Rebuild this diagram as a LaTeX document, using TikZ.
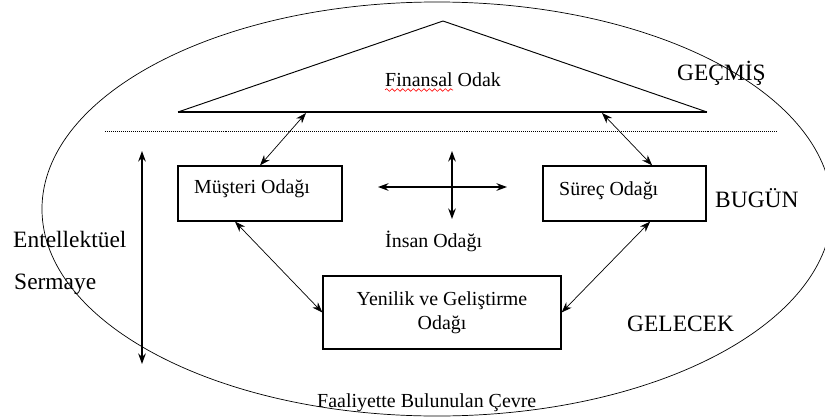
\documentclass[tikz,border=0pt]{standalone}
\usepackage{fontspec}
\setmainfont{Liberation Serif}
\usetikzlibrary{arrows.meta,decorations.pathmorphing}

\begin{document}
\begin{tikzpicture}[x=0.03cm, y=-0.03cm,
    kutu/.style={draw=black, line width=1pt, inner sep=0pt},
    yazi/.style={font=\fontsize{17}{20.5}\selectfont, inner sep=0pt},
    buyuk/.style={font=\fontsize{20}{24}\selectfont, inner sep=0pt},
    ok/.style={{Stealth[length=9pt,width=6.5pt]}-{Stealth[length=9pt,width=6.5pt]}, line width=0.6pt}]
    \useasboundingbox (0,0) rectangle (825,419);

    % cevre
    \draw [line width=0.6pt] (437,209) ellipse [x radius=11.85cm, y radius=6.21cm];

    % finansal odak ucgeni
    \draw [line width=0.8pt] (178,112) -- (443,21) -- (707,112);
    \draw [line width=1.4pt] (178,112) -- (707,112);
    \coordinate (fl) at (306,113);
    \coordinate (fr) at (602,113);
    \node[yazi, anchor=base west] (finans) at (385,86) {Finansal Odak};
    \draw [red, line width=0.5pt, decorate, decoration={snake, amplitude=0.04cm, segment length=0.16cm}] (385,90) -- (453,90);

    % gecmis / bugun ayrimi
    \draw [line width=0.85pt, dash pattern=on 0.85pt off 0.85pt] (105,131) -- (778,131);

    % kutular
    \node[kutu, minimum width=4.92cm, minimum height=1.65cm] (must) at (260,193.5) {};
    \node[yazi, anchor=base west] (mustlbl) at (194,193) {Müşteri Odağı};
    \node[kutu, minimum width=4.89cm, minimum height=1.65cm] (surec) at (624.5,193.5) {};
    \node[yazi, anchor=base west] (sureclbl) at (559,195) {Süreç Odağı};
    \node[kutu, yazi, align=center, minimum width=7.14cm, minimum height=2.19cm] (yeni) at (442,312.5) {Yenilik ve Geliştirme\\Odağı};

    % insan odagi
    \coordinate (hl) at (378,187);
    \coordinate (hr) at (507,187);
    \coordinate (vt) at (452,151);
    \coordinate (vb) at (452,219);
    \draw [ok, line width=1pt] (hl) -- (hr);
    \draw [ok, line width=1pt] (vt) -- (vb);
    \node[yazi, anchor=base west] (insan) at (385,247) {İnsan Odağı};

    % baglantilar
    \draw [ok] (fl) -- (must.north);
    \draw [ok] (fr) -- ([xshift=0.83cm]surec.north);
    \draw [ok] ([xshift=-0.75cm]must.south) -- (yeni.west);
    \draw [ok] ([xshift=0.77cm]surec.south) -- (yeni.east);

    % entellektuel sermaye
    \coordinate (et) at (142,151);
    \coordinate (eb) at (142,364);
    \draw [ok, line width=1pt] (et) -- (eb);
    \node[buyuk, anchor=base west] (entel) at (13,247) {Entellektüel};
    \node[buyuk, anchor=base west] (serm) at (14,289) {Sermaye};

    % zaman
    \node[buyuk, anchor=base west] (gecmis) at (677,80) {GEÇMİŞ};
    \node[buyuk, anchor=base west] (bugun) at (715,207) {BUGÜN};
    \node[buyuk, anchor=base west] (gelecek) at (627,331) {GELECEK};

    \node[yazi, anchor=base west] (faal) at (317,407) {Faaliyette Bulunulan Çevre};
\end{tikzpicture}
\end{document}
